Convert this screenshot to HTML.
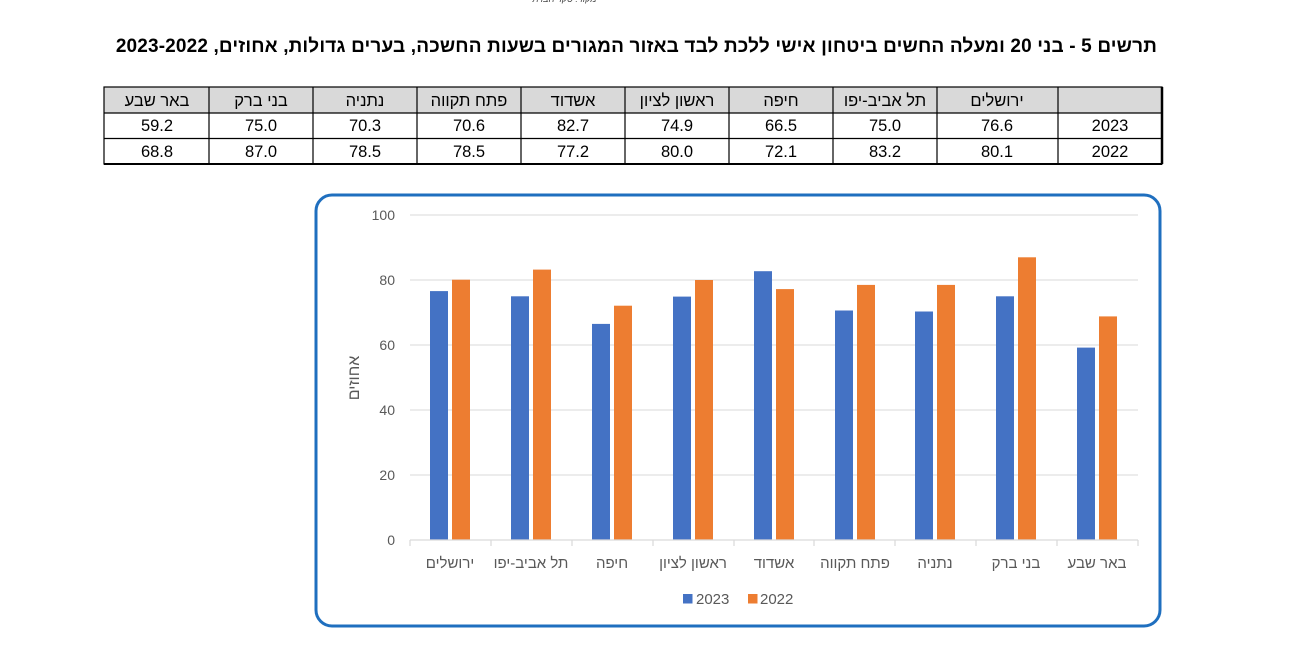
<!DOCTYPE html>
<html><head><meta charset="utf-8"><style>
body{margin:0;background:#fff;position:relative;width:1300px;height:669px;overflow:hidden;}
svg{display:block;position:absolute;left:0;top:0;}
#title{position:absolute;right:143px;top:36px;direction:rtl;font-family:"Liberation Sans",sans-serif;font-weight:bold;font-size:19px;letter-spacing:0.15px;color:#000;white-space:nowrap;}
#src{position:absolute;left:530px;top:-6px;font-family:"Liberation Sans",sans-serif;font-size:9px;color:#444;font-style:italic;direction:rtl;}
</style></head><body>
<svg width="1300" height="669" viewBox="0 0 1300 669" xmlns="http://www.w3.org/2000/svg" font-family="Liberation Sans, Noto Sans CJK SC, sans-serif">
<rect x="104" y="87" width="1058" height="26" fill="#d9d9d9"/>
<g stroke="#000" stroke-width="1.2" fill="none">
<rect x="104" y="87" width="1058" height="77"/>
<line x1="104" y1="113" x2="1162" y2="113"/>
<line x1="104" y1="138.5" x2="1162" y2="138.5"/>
<line x1="209" y1="87" x2="209" y2="164"/><line x1="313" y1="87" x2="313" y2="164"/>
<line x1="417" y1="87" x2="417" y2="164"/><line x1="521" y1="87" x2="521" y2="164"/>
<line x1="625" y1="87" x2="625" y2="164"/><line x1="729" y1="87" x2="729" y2="164"/>
<line x1="833" y1="87" x2="833" y2="164"/><line x1="937" y1="87" x2="937" y2="164"/>
<line x1="1058" y1="87" x2="1058" y2="164"/>
</g>
<line x1="1162" y1="87" x2="1162" y2="164" stroke="#000" stroke-width="2.5"/>
<line x1="104" y1="164" x2="1162" y2="164" stroke="#000" stroke-width="2"/>
<g font-size="16.5" fill="#000" text-anchor="middle">
<g direction="rtl">
<text x="157" y="106">באר שבע</text><text x="261" y="106">בני ברק</text><text x="365" y="106">נתניה</text>
<text x="469" y="106">פתח תקווה</text><text x="573" y="106">אשדוד</text><text x="677" y="106">ראשון לציון</text>
<text x="781" y="106">חיפה</text><text x="885" y="106">תל אביב-יפו</text><text x="997" y="106">ירושלים</text>
</g>
<text x="157" y="131">59.2</text><text x="261" y="131">75.0</text><text x="365" y="131">70.3</text><text x="469" y="131">70.6</text><text x="573" y="131">82.7</text><text x="677" y="131">74.9</text><text x="781" y="131">66.5</text><text x="885" y="131">75.0</text><text x="997" y="131">76.6</text><text x="1110" y="131">2023</text>
<text x="157" y="157">68.8</text><text x="261" y="157">87.0</text><text x="365" y="157">78.5</text><text x="469" y="157">78.5</text><text x="573" y="157">77.2</text><text x="677" y="157">80.0</text><text x="781" y="157">72.1</text><text x="885" y="157">83.2</text><text x="997" y="157">80.1</text><text x="1110" y="157">2022</text>
</g>

<rect x="316" y="195" width="844" height="431" rx="16" fill="#fff" stroke="#1f6fbf" stroke-width="3"/>
<g stroke="#d9d9d9" stroke-width="1">
<line x1="410" y1="215" x2="1138" y2="215"/><line x1="410" y1="280" x2="1138" y2="280"/>
<line x1="410" y1="345" x2="1138" y2="345"/><line x1="410" y1="410" x2="1138" y2="410"/>
<line x1="410" y1="475" x2="1138" y2="475"/>
</g>
<g font-size="14" fill="#595959" text-anchor="end">
<text x="395" y="220">100</text><text x="395" y="285">80</text><text x="395" y="350">60</text>
<text x="395" y="415">40</text><text x="395" y="480">20</text><text x="395" y="545">0</text>
</g>
<text transform="translate(359,378) rotate(-90)" font-size="16" fill="#595959" text-anchor="middle" direction="rtl">אחוזים</text>
<g fill="#4472c4">
<rect x="430" y="291.1" width="18" height="248.9"/>
<rect x="511" y="296.3" width="18" height="243.7"/>
<rect x="592" y="323.9" width="18" height="216.1"/>
<rect x="673" y="296.6" width="18" height="243.4"/>
<rect x="754" y="271.2" width="18" height="268.8"/>
<rect x="835" y="310.5" width="18" height="229.5"/>
<rect x="915" y="311.5" width="18" height="228.5"/>
<rect x="996" y="296.3" width="18" height="243.7"/>
<rect x="1077" y="347.6" width="18" height="192.4"/>
</g>
<g fill="#ed7d31">
<rect x="452" y="279.7" width="18" height="260.3"/>
<rect x="533" y="269.6" width="18" height="270.4"/>
<rect x="614" y="305.7" width="18" height="234.3"/>
<rect x="695" y="280" width="18" height="260"/>
<rect x="776" y="289.1" width="18" height="250.9"/>
<rect x="857" y="284.9" width="18" height="255.1"/>
<rect x="937" y="284.9" width="18" height="255.1"/>
<rect x="1018" y="257.3" width="18" height="282.7"/>
<rect x="1099" y="316.4" width="18" height="223.6"/>
</g>
<g stroke="#d9d9d9" stroke-width="1.2">
<line x1="410" y1="540" x2="1138" y2="540"/>
<line x1="410" y1="540" x2="410" y2="546"/><line x1="491" y1="540" x2="491" y2="546"/>
<line x1="572" y1="540" x2="572" y2="546"/><line x1="653" y1="540" x2="653" y2="546"/>
<line x1="734" y1="540" x2="734" y2="546"/><line x1="814" y1="540" x2="814" y2="546"/>
<line x1="895" y1="540" x2="895" y2="546"/><line x1="976" y1="540" x2="976" y2="546"/>
<line x1="1057" y1="540" x2="1057" y2="546"/><line x1="1138" y1="540" x2="1138" y2="546"/>
</g>
<g font-size="15" fill="#595959" text-anchor="middle" direction="rtl">
<text x="450" y="568">ירושלים</text><text x="531" y="568">תל אביב-יפו</text><text x="612" y="568">חיפה</text>
<text x="693" y="568">ראשון לציון</text><text x="774" y="568">אשדוד</text><text x="855" y="568">פתח תקווה</text>
<text x="935" y="568">נתניה</text><text x="1016" y="568">בני ברק</text><text x="1097" y="568">באר שבע</text>
</g>
<rect x="683" y="594" width="9.5" height="9.5" fill="#4472c4"/>
<text x="696" y="604" font-size="15" fill="#595959">2023</text>
<rect x="748" y="594" width="9.5" height="9.5" fill="#ed7d31"/>
<text x="760" y="604" font-size="15" fill="#595959">2022</text>
</svg>
<div id="src">מקור: סקר חברתי</div>
<div id="title">תרשים 5 - בני 20 ומעלה החשים ביטחון אישי ללכת לבד באזור המגורים בשעות החשכה, בערים גדולות, אחוזים, 2023-2022</div>
</body></html>
